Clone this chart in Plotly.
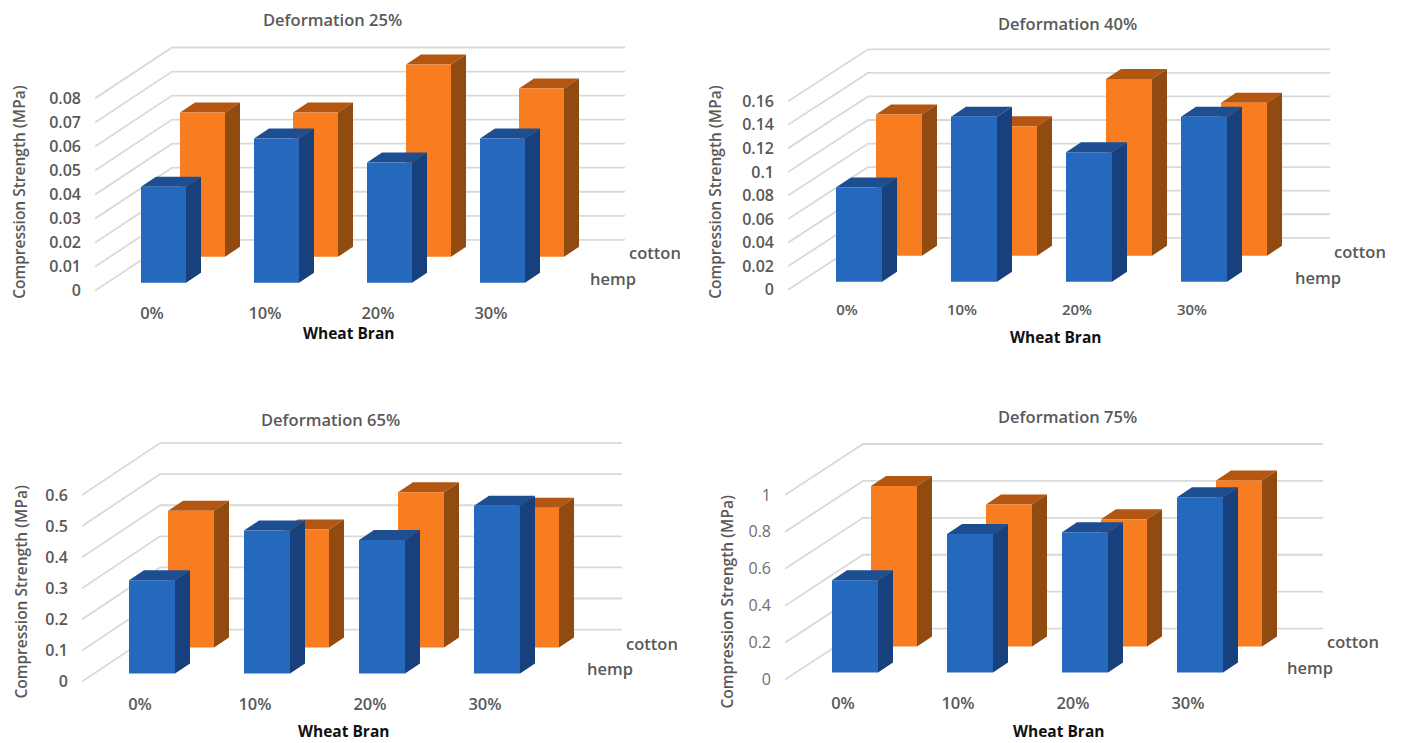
import plotly.graph_objects as go

W, H = 1402, 743
Y_FIT = 743 / 740.5  # page-height fit applied to all vertical placements

wheat_bran = ["0%", "10%", "20%", "30%"]
titles = ["Deformation 25%", "Deformation 40%", "Deformation 65%", "Deformation 75%"]

hemp_25 = [0.04, 0.06, 0.05, 0.06]
cotton_25 = [0.06, 0.06, 0.08, 0.07]
hemp_40 = [0.08, 0.14, 0.11, 0.14]
cotton_40 = [0.12, 0.11, 0.15, 0.13]
hemp_65 = [0.30, 0.46, 0.43, 0.54]
cotton_65 = [0.44, 0.38, 0.50, 0.45]
hemp_75 = [0.50, 0.75, 0.76, 0.95]
cotton_75 = [0.87, 0.77, 0.69, 0.90]

ticks_25 = [0, 0.01, 0.02, 0.03, 0.04, 0.05, 0.06, 0.07, 0.08]
ticks_40 = [0, 0.02, 0.04, 0.06, 0.08, 0.1, 0.12, 0.14, 0.16]
ticks_65 = [0, 0.1, 0.2, 0.3, 0.4, 0.5, 0.6]
ticks_75 = [0, 0.2, 0.4, 0.6, 0.8, 1]
labels_25 = ["0", "0.01", "0.02", "0.03", "0.04", "0.05", "0.06", "0.07", "0.08"]
labels_40 = ["0", "0.02", "0.04", "0.06", "0.08", "0.1", "0.12", "0.14", "0.16"]
labels_65 = ["0", "0.1", "0.2", "0.3", "0.4", "0.5", "0.6"]
labels_75 = ["0", "0.2", "0.4", "0.6", "0.8", "1"]

# Panel geometry, in page pixels
panels = [
    dict(hemp=hemp_25, cotton=cotton_25, ticks=ticks_25, labels=labels_25, title=titles[0],
         L=95, R=625, y0=291, ppu=2406, dx=77, dy=51, bl=141, sp=113, w=45, ox=39,
         bb=283, ob=257, sx=15, sy=10, cat0=152, cat_y=313, catsize=16.5,
         title_xy=(332, 20), xt=(348, 333), yt=(19, 192), cot=(655, 253), hem=(613, 279),
         tickweight=600, tickcolor="#595959", tsize=16),
    dict(hemp=hemp_40, cotton=cotton_40, ticks=ticks_40, labels=labels_40, title=titles[1],
         L=788, R=1330, y0=290, ppu=1179, dx=80, dy=52, bl=836, sp=115, w=46, ox=40,
         bb=282, ob=256, sx=15, sy=10, cat0=847, cat_y=310, catsize=15,
         title_xy=(1067, 24), xt=(1055, 337), yt=(715, 192), cot=(1360, 252), hem=(1318, 278),
         tickweight=600, tickcolor="#595959", tsize=16),
    dict(hemp=hemp_65, cotton=cotton_65, ticks=ticks_65, labels=labels_65, title=titles[2],
         L=82, R=622, y0=682, ppu=311, dx=78, dy=52, bl=129, sp=115, w=46, ox=39,
         bb=674, ob=648, sx=15, sy=10, cat0=140, cat_y=704, catsize=16.5,
         title_xy=(330, 420), xt=(343, 731.5), yt=(21, 592), cot=(652, 644), hem=(610, 669),
         tickweight=600, tickcolor="#595959", tsize=16),
    dict(hemp=hemp_75, cotton=cotton_75, ticks=ticks_75, labels=labels_75, title=titles[3],
         L=785, R=1323, y0=680, ppu=184.7, dx=78, dy=51, bl=832, sp=115, w=46, ox=39,
         bb=673, ob=647, sx=15, sy=10, cat0=843, cat_y=703, catsize=16.5,
         title_xy=(1067, 417), xt=(1058, 731.5), yt=(727, 602), cot=(1353, 642), hem=(1310, 668),
         tickweight=400, tickcolor="#6e6e6e", tsize=16),
]

BLUE = ("#2469BD", "#17407D", "#1E4E92")
ORANGE = ("#F77D20", "#914A10", "#B25612")
GRID = "#d9d9d9"
TXT = "#595959"
FONT = "Open Sans"


def poly_trace(xs, ys, color, name, ax):
    return go.Scatter(x=xs, y=ys, mode="lines", fill="toself", fillcolor=color,
                      line=dict(width=0, color=color), name=name, xaxis=ax[0], yaxis=ax[1],
                      showlegend=False, hoverinfo="skip")


def bars(values, name, colors, p, x_off_px, bottom_px, ax):
    sp, ppu = p["sp"], p["ppu"]
    w, sx, sy = p["w"] / sp, p["sx"] / sp, p["sy"] / ppu
    base = (p["y0"] - bottom_px) / ppu
    off = x_off_px / sp
    front_x, front_y, side_x, side_y, top_x, top_y = [], [], [], [], [], []
    for i, v in enumerate(values):
        a, b, t = i + off, i + off + w, base + v
        front_x += [a, b, b, a, a, None]
        front_y += [base, base, t, t, base, None]
        side_x += [b, b + sx, b + sx, b, b, None]
        side_y += [base, base + sy, t + sy, t, base, None]
        top_x += [a, b, b + sx, a + sx, a, None]
        top_y += [t, t, t + sy, t + sy, t, None]
    return [
        poly_trace(top_x, top_y, colors[2], name, ax),
        poly_trace(side_x, side_y, colors[1], name, ax),
        poly_trace(front_x, front_y, colors[0], name, ax),
    ]


fig = go.Figure()
layout = dict(width=W, height=H, margin=dict(l=0, r=0, t=0, b=0), paper_bgcolor="white",
              plot_bgcolor="white", showlegend=False, annotations=[], hovermode=False)


def note(text, xy, size=16, color=TXT, weight=700, angle=0):
    layout["annotations"].append(dict(
        text=text, x=xy[0] / W, y=1 - xy[1] * Y_FIT / H, xref="paper", yref="paper",
        xanchor="center", yanchor="middle", showarrow=False, textangle=angle,
        font=dict(family=FONT, size=size, color=color, weight=weight)))


for n, p in enumerate(panels):
    sfx = "" if n == 0 else str(n + 1)
    ax = ("x" + sfx, "y" + sfx)
    L, R, sp, ppu, bl = p["L"], p["R"], p["sp"], p["ppu"], p["bl"]
    top_px = p["y0"] - p["dy"] - max(p["ticks"]) * ppu - 6
    bot_px = p["y0"] + 8

    # Walls
    wx, wy = [], []
    for v in p["ticks"]:
        wx += [(L - bl) / sp, (L + p["dx"] - bl) / sp, (R - bl) / sp, None]
        wy += [v, v + p["dy"] / ppu, v + p["dy"] / ppu, None]
    fig.add_trace(go.Scatter(x=wx, y=wy, mode="lines", line=dict(color=GRID, width=1.8),
                             xaxis=ax[0], yaxis=ax[1], showlegend=False, hoverinfo="skip",
                             name="grid"))
    for t in bars(p["cotton"], "cotton", ORANGE, p, p["ox"], p["ob"], ax):
        fig.add_trace(t)
    for t in bars(p["hemp"], "hemp", BLUE, p, 0, p["bb"], ax):
        fig.add_trace(t)

    layout["xaxis" + sfx] = dict(
        domain=[L / W, R / W], range=[(L - bl) / sp, (R - bl) / sp], anchor=ax[1],
        tickvals=[(p["cat0"] - bl) / sp + i for i in range(len(wheat_bran))],
        ticktext=wheat_bran, showgrid=False, zeroline=False, showline=False, ticks="",
        ticklabelstandoff=p["cat_y"] - bot_px - 11,
        tickfont=dict(family=FONT, size=p["catsize"], color=TXT, weight=600))
    layout["yaxis" + sfx] = dict(
        domain=[1 - bot_px * Y_FIT / H, 1 - top_px * Y_FIT / H],
        range=[(p["y0"] - bot_px) / ppu, (p["y0"] - top_px) / ppu], anchor=ax[0],
        tickvals=p["ticks"], ticktext=p["labels"], showgrid=False, zeroline=False,
        showline=False, ticks="", ticklabelstandoff=13,
        tickfont=dict(family=FONT, size=p["tsize"], color=p["tickcolor"], weight=p["tickweight"]))

    note(p["title"], p["title_xy"], size=16.5, weight=600)
    note("Wheat Bran", p["xt"], size=15.5, color="#111111")
    note("Compression Strength (MPa)", p["yt"], size=15.5, weight=600, angle=-90)
    note("cotton", p["cot"], size=16.5, weight=600)
    note("hemp", p["hem"], size=16.5, weight=600)

fig.update_layout(**layout)
fig.write_html("out.html", config=dict(displayModeBar=False),
               post_script="document.body.style.margin='0';")
